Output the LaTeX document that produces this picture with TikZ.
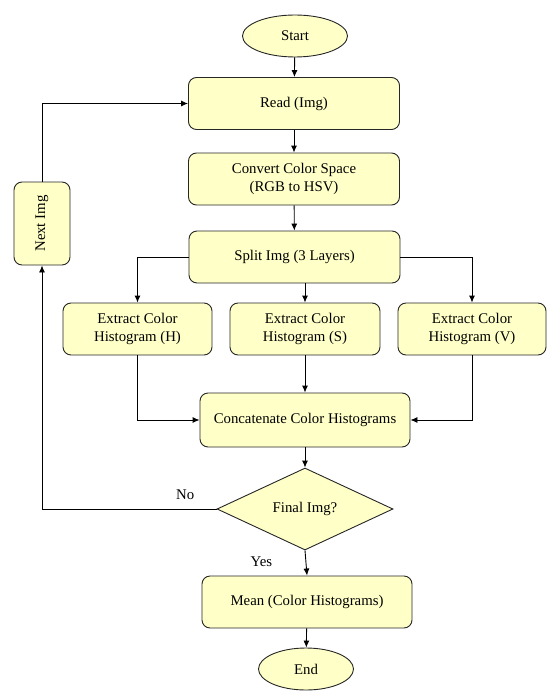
\documentclass[tikz,border=0pt]{standalone}
\usepackage{fontspec}
\setmainfont{Liberation Serif}
\usetikzlibrary{arrows.meta,shapes.geometric}
\definecolor{boxfill}{HTML}{FFFFC8}
\tikzset{
  box/.style={draw=black!85, fill=boxfill, rounded corners=8pt, line width=0.9pt,
    minimum width=211pt, minimum height=52pt, align=center, inner sep=2pt},
  term/.style={draw=black!85, fill=boxfill, ellipse, line width=0.9pt, inner sep=0pt},
  decide/.style={draw=black!85, fill=boxfill, diamond, aspect=2, line width=0.9pt,
    inner sep=0pt, minimum width=176pt, minimum height=82pt},
  line/.style={line width=0.9pt, -{Latex[length=7pt,width=6pt]}}
}
\begin{document}
\begin{tikzpicture}[x=1pt, y=-1pt, font=\fontsize{14.8}{18}\selectfont]
    \useasboundingbox (0,0) rectangle (547,693);

    \node[term, minimum width=105pt, minimum height=42pt] (start) at (295,36) {Start};
    \node[box] (read) at (294,103.5) {Read (Img)};
    \node[box] (conv) at (294,179) {Convert Color Space\\(RGB to HSV)};
    \node[box] (split) at (294.5,257) {Split Img (3 Layers)};
    \node[box, rotate=90, minimum width=83pt, minimum height=56pt] (next) at (42,223.5) {Next Img};

    \node[box, minimum width=149pt] (exH) at (137.5,329) {Extract Color\\Histogram (H)};
    \node[box, minimum width=150pt] (exS) at (305,329) {Extract Color\\Histogram (S)};
    \node[box, minimum width=148pt] (exV) at (472,329) {Extract Color\\Histogram (V)};

    \node[box, minimum width=210pt, minimum height=54pt] (concat) at (305,420) {Concatenate Color Histograms};
    \node[decide] (final) at (305,509) {Final Img?};
    \node[box, minimum width=210pt] (mean) at (307,602) {Mean (Color Histograms)};
    \node[term, minimum width=95pt, minimum height=42pt] (end) at (306,669) {End};

    % main column
    \draw[line] (start) -- (read);
    \draw[line] (read) -- (conv);
    \draw[line] (conv) -- (split);

    % split into the three layers
    \draw[line] (split.west) -| (exH.north);
    \draw[line] (exS.north |- split.south) -- (exS.north);
    \draw[line] (split.east) -| (exV.north);

    % back together
    \draw[line] (exH.south) |- (concat.west);
    \draw[line] (exS.south) -- (concat.north);
    \draw[line] (exV.south) |- (concat.east);

    \draw[line] (concat.south) -- (final.north);
    \draw[line] (final.west) -| node[pos=0.09, above=6pt] {No} (next.west);
    \draw[line] (next.east) |- (read.west);
    \draw[line] (final.south) -- node[pos=0.45, left=30pt] {Yes} (mean.north);
    \draw[line] (mean) -- (end);
  \end{tikzpicture}
\end{document}
